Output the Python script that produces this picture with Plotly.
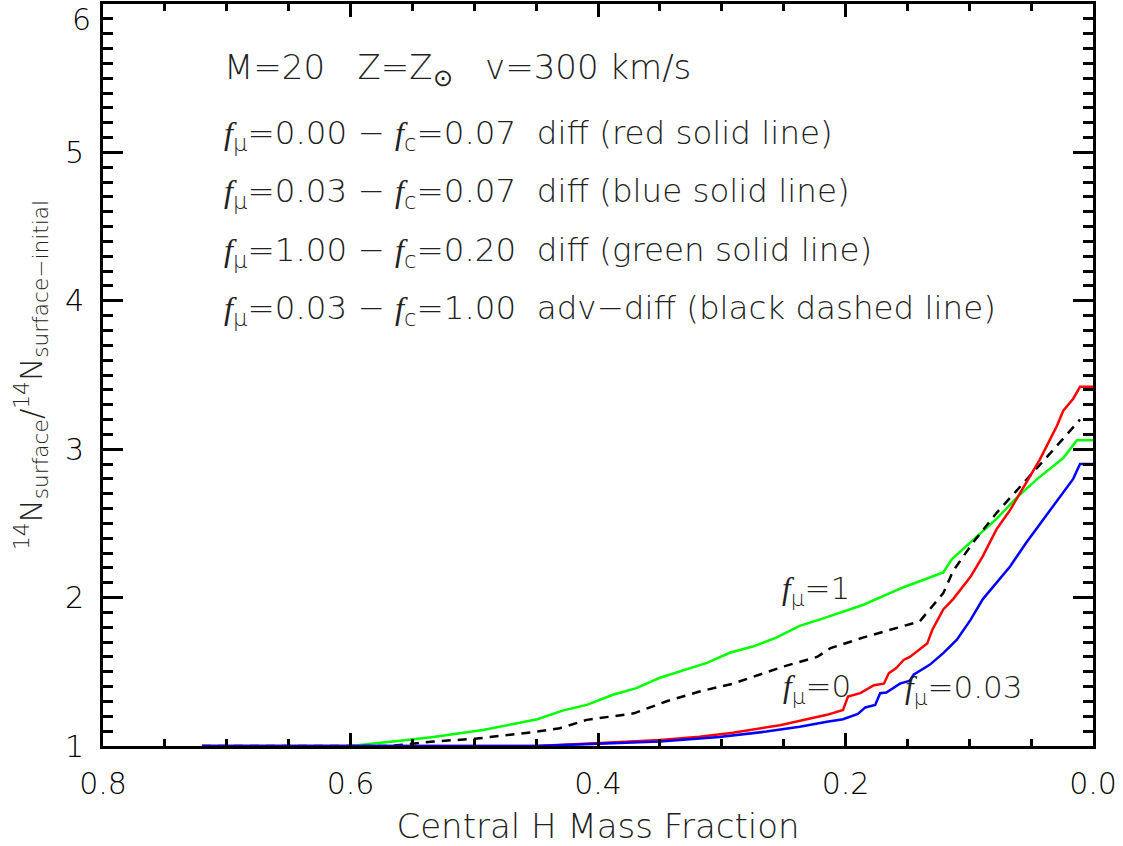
import plotly.graph_objects as go

# Surface 14N enrichment vs central H mass fraction, 20 Msun, Z=Zsun, v=300 km/s
red_x = [0.72, 0.45, 0.398, 0.35, 0.318, 0.291, 0.253, 0.237, 0.215, 0.202, 0.198, 0.188, 0.177, 0.169,
         0.165, 0.159, 0.153, 0.148, 0.142, 0.134, 0.130, 0.121, 0.113, 0.099, 0.089, 0.078, 0.067,
         0.054, 0.043, 0.029, 0.024, 0.016, 0.0105, 0.0]
red_y = [1.0, 1.0, 1.02, 1.04, 1.063, 1.09, 1.14, 1.17, 1.21, 1.243, 1.333, 1.356, 1.41, 1.42,
         1.49, 1.525, 1.58, 1.60, 1.637, 1.69, 1.78, 1.92, 1.99, 2.14, 2.28, 2.46, 2.59,
         2.77, 2.93, 3.16, 3.26, 3.34, 3.42, 3.42]

blue_x = [0.72, 0.45, 0.35, 0.302, 0.264, 0.237, 0.215, 0.202, 0.190, 0.184, 0.176, 0.172, 0.167,
          0.156, 0.148, 0.145, 0.132, 0.121, 0.110, 0.099, 0.089, 0.078, 0.067, 0.054, 0.040,
          0.027, 0.016, 0.0105, 0.0]
blue_y = [1.0, 1.0, 1.03, 1.06, 1.097, 1.13, 1.164, 1.18, 1.216, 1.26, 1.277, 1.356, 1.36,
          1.42, 1.44, 1.48, 1.547, 1.626, 1.716, 1.85, 1.99, 2.10, 2.21, 2.37, 2.53,
          2.68, 2.80, 2.90, 2.90]

green_x = [0.72, 0.60, 0.56, 0.533, 0.493, 0.449, 0.428, 0.409, 0.388, 0.369, 0.35, 0.331, 0.312,
           0.293, 0.275, 0.256, 0.237, 0.218, 0.196, 0.186, 0.153, 0.121, 0.114, 0.099, 0.078,
           0.062, 0.045, 0.024, 0.013, 0.0]
green_y = [1.0, 1.0, 1.036, 1.06, 1.108, 1.18, 1.24, 1.277, 1.345, 1.39, 1.46, 1.51, 1.56,
           1.63, 1.67, 1.73, 1.81, 1.86, 1.92, 1.95, 2.07, 2.17, 2.26, 2.37, 2.53,
           2.67, 2.80, 2.94, 3.06, 3.06]

black_x = [0.72, 0.60, 0.568, 0.533, 0.498, 0.449, 0.431, 0.409, 0.371, 0.345, 0.318, 0.291, 0.274,
           0.25, 0.223, 0.212, 0.186, 0.14, 0.134, 0.121, 0.113, 0.097, 0.078, 0.056, 0.037, 0.0105]
black_y = [1.0, 1.0, 1.0, 1.03, 1.05, 1.097, 1.12, 1.176, 1.22, 1.30, 1.367, 1.42, 1.47,
           1.536, 1.60, 1.66, 1.73, 1.84, 1.90, 2.03, 2.18, 2.37, 2.57, 2.77, 2.95, 3.20]

x_ticks = [0.8, 0.6, 0.4, 0.2, 0.0]
x_ticktext = ["0.8", "0.6", "0.4", "0.2", "0.0"]
y_ticks = [1, 2, 3, 4, 5, 6]
y_ticktext = ["1", "2", "3", "4", "5", ""]

FONT = "DejaVu Sans"
TXT = "#222"
FF = "<span style='font-family:Liberation Serif'><i>f</i></span>"
SP = "\u00a0"


def fsub(s):
    return FF + "<sub>" + s + "</sub>"


fig = go.Figure()
fig.add_trace(go.Scatter(x=green_x, y=green_y, mode="lines", line=dict(color="#00ff00", width=2.5)))
fig.add_trace(go.Scatter(x=black_x, y=black_y, mode="lines",
                         line=dict(color="black", width=2.5, dash="9px,7px")))
fig.add_trace(go.Scatter(x=red_x, y=red_y, mode="lines", line=dict(color="#ff0000", width=2.5)))
fig.add_trace(go.Scatter(x=blue_x, y=blue_y, mode="lines", line=dict(color="#0000ff", width=2.5)))

tick_font = dict(family=FONT, size=30, color="black", weight=200)
axis_common = dict(showline=True, linecolor="black", linewidth=3, mirror="allticks",
                   ticks="inside", tickcolor="black", tickwidth=2.5, showgrid=False,
                   zeroline=False, automargin=False, tickfont=tick_font)

fig.update_xaxes(range=[0.8, 0.0], tickvals=x_ticks, ticktext=x_ticktext, ticklen=13,
                 minor=dict(dtick=0.05, ticklen=7, tickwidth=2.5, tickcolor="black", ticks="inside",
                            showgrid=False),
                 ticklabelstandoff=9,
                 title=dict(text="Central H Mass Fraction",
                            font=dict(family=FONT, size=34, color=TXT, weight=200), standoff=16),
                 **axis_common)
fig.update_yaxes(range=[1, 6], tickvals=y_ticks, ticktext=y_ticktext, ticklen=20,
                 minor=dict(dtick=0.1, ticklen=10, tickwidth=2.5, tickcolor="black", ticks="inside",
                            showgrid=False),
                 ticklabelstandoff=10,
                 title=dict(text="<sup>14</sup>N<sub>surface</sub>/<sup>14</sup>N<sub>surface\u2212initial</sub>",
                            font=dict(family=FONT, size=31, color=TXT, weight=200), standoff=14),
                 **axis_common)

annotations = []
# top tick label of the y axis, kept inside the page
annotations.append(dict(x=0, xref="paper", y=6, yref="y", text="6", showarrow=False,
                        xanchor="right", yanchor="top", xshift=-10, yshift=4, font=tick_font))

lines = [
    "M=20" + SP * 3 + "Z=Z<sub>\u2299</sub>" + SP * 3 + "v=300 km/s",
    fsub("\u03bc") + "=0.00 \u2212 " + fsub("c") + "=0.07" + SP * 2 + "diff (red solid line)",
    fsub("\u03bc") + "=0.03 \u2212 " + fsub("c") + "=0.07" + SP * 2 + "diff (blue solid line)",
    fsub("\u03bc") + "=1.00 \u2212 " + fsub("c") + "=0.20" + SP * 2 + "diff (green solid line)",
    fsub("\u03bc") + "=0.03 \u2212 " + fsub("c") + "=1.00" + SP * 2 + "adv\u2212diff (black dashed line)",
]
line_y = [5.56, 5.12, 4.725, 4.332, 3.94]
line_size = [34, 32.5, 32.5, 32.5, 32.5]
for t, yy, fs in zip(lines, line_y, line_size):
    annotations.append(dict(x=0.12, xref="paper", y=yy, yref="y", text=t, showarrow=False,
                            xanchor="left", yanchor="middle",
                            font=dict(family=FONT, size=fs, color=TXT, weight=200)))

curve_labels = [("=1", 0.253, 2.05), ("=0", 0.252, 1.39), ("=0.03", 0.1535, 1.38)]
for t, xx, yy in curve_labels:
    annotations.append(dict(x=xx, y=yy, text=fsub("\u03bc") + t, showarrow=False,
                            xanchor="left", yanchor="middle",
                            font=dict(family=FONT, size=31, color=TXT, weight=200)))

fig.update_layout(width=1123, height=846, margin=dict(l=103, r=30, t=4, b=100),
                  plot_bgcolor="white", paper_bgcolor="white", showlegend=False,
                  annotations=annotations)

fig.write_html("out.html")
